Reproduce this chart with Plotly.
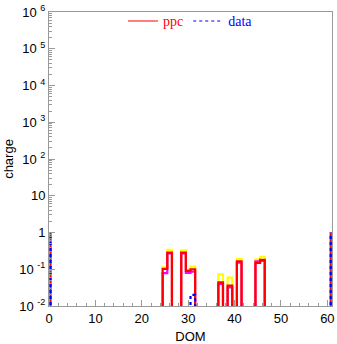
import plotly.graph_objects as go

# ---- data ----
dom = [25, 26, 29, 30, 31, 37, 39, 41, 45, 46]
ppc = [0.102, 0.283, 0.283, 0.090, 0.100, 0.044, 0.036, 0.163, 0.150, 0.180]
ppc_hi = [0.113, 0.335, 0.325, 0.097, 0.118, 0.073, 0.059, 0.188, 0.185, 0.218]
ppc_lo = [0.078, 0.272, 0.272, 0.080, 0.086, 0.040, 0.032, 0.152, 0.164, 0.170]
data_dom = [31]
data_val = [0.020]
edge_dom = [0, 60]
edge_val = [1.0, 1.0]

y_ticks = [1e-2, 1e-1, 1, 10, 1e2, 1e3, 1e4, 1e5, 1e6]
y_ticktext = ["10 <sup>-2</sup>", "10 <sup>-1</sup>", "1", "10", "10 <sup>2</sup>",
              "10 <sup>3</sup>", "10 <sup>4</sup>", "10 <sup>5</sup>", "10 <sup>6</sup>"]

YMIN = 1e-2
BIN = 1.0


def steps(ds, vs):
    xs, ys = [], []
    i = 0
    n = len(ds)
    while i < n:
        j = i
        while j + 1 < n and ds[j + 1] == ds[j] + 1:
            j += 1
        xs.append(ds[i] - BIN / 2); ys.append(YMIN * 0.5)
        for k in range(i, j + 1):
            xs += [ds[k] - BIN / 2, ds[k] + BIN / 2]
            ys += [vs[k], vs[k]]
        xs.append(ds[j] + BIN / 2); ys.append(YMIN * 0.5)
        xs.append(None); ys.append(None)
        i = j + 1
    return xs, ys


def edges(ds, vs):
    xs, ys = [], []
    for d, v in zip(ds, vs):
        x = d + (0.33 if d == 0 else 0.72)
        xs += [x, x, None]
        ys += [YMIN * 0.5, v, None]
    return xs, ys


fig = go.Figure()
LW = 2.2

x, y = steps(dom, ppc_hi)
fig.add_trace(go.Scatter(x=x, y=y, mode="lines", line=dict(color="#ffff00", width=LW),
                         showlegend=False, hoverinfo="skip"))
x, y = steps(dom, ppc_lo)
fig.add_trace(go.Scatter(x=x, y=y, mode="lines", line=dict(color="#ff00ff", width=LW),
                         showlegend=False, hoverinfo="skip"))
x, y = steps(dom, ppc)
ex, ey = edges(edge_dom, edge_val)
fig.add_trace(go.Scatter(x=x + ex, y=y + ey, mode="lines", line=dict(color="#ff0000", width=LW),
                         showlegend=False))
x, y = steps(data_dom, data_val)
fig.add_trace(go.Scatter(x=x + ex, y=y + ey, mode="lines",
                         line=dict(color="#0000ff", width=LW, dash="dot"),
                         showlegend=False))

# legend-only entries (thin sample lines like the reference)
fig.add_trace(go.Scatter(x=[None], y=[None], mode="lines", line=dict(color="#ff0000", width=1.2),
                         name="<span style='color:#ff0000'>ppc</span>"))
fig.add_trace(go.Scatter(x=[None], y=[None], mode="lines",
                         line=dict(color="#0000ff", width=1.2, dash="dot"),
                         name="<span style='color:#0000ff'>data</span>"))

minor_y = [k * 10 ** e for e in range(-2, 6) for k in range(2, 10)]

axcol = "#9a9a9a"
fig.update_layout(
    width=337, height=344,
    margin=dict(l=49, r=5, t=12, b=38),
    paper_bgcolor="white", plot_bgcolor="white",
    font=dict(family="Liberation Sans, Arial, sans-serif", size=13, color="black"),
    showlegend=True,
    legend=dict(orientation="h", x=0.5, y=0.968, xanchor="center", yanchor="middle",
                font=dict(family="Liberation Serif, Times New Roman, serif", size=14),
                bgcolor="rgba(0,0,0,0)", itemwidth=30, tracegroupgap=0),
    xaxis=dict(range=[0, 61], tickmode="array", tickvals=[0, 10, 20, 30, 40, 50, 60],
               automargin=False,
               ticks="inside", ticklen=6, tickcolor=axcol, showgrid=False, zeroline=False,
               showline=True, linecolor=axcol, linewidth=1, mirror=True,
               minor=dict(ticks="inside", ticklen=3, dtick=2, tick0=0, tickcolor=axcol, showgrid=False),
               title=dict(text="DOM", standoff=9, font=dict(size=13)), tickfont=dict(size=13)),
    yaxis=dict(type="log", range=[-2, 6], tickmode="array", tickvals=y_ticks, ticktext=y_ticktext,
               automargin=False,
               ticks="inside", ticklen=6, tickcolor=axcol, showgrid=False, zeroline=False,
               showline=True, linecolor=axcol, linewidth=1, mirror=True,
               minor=dict(ticks="inside", ticklen=3, tickvals=minor_y, tickcolor=axcol, showgrid=False),
               title=dict(text="charge", standoff=2, font=dict(size=13)), tickfont=dict(size=13)),
)

fig.write_html("out.html")
